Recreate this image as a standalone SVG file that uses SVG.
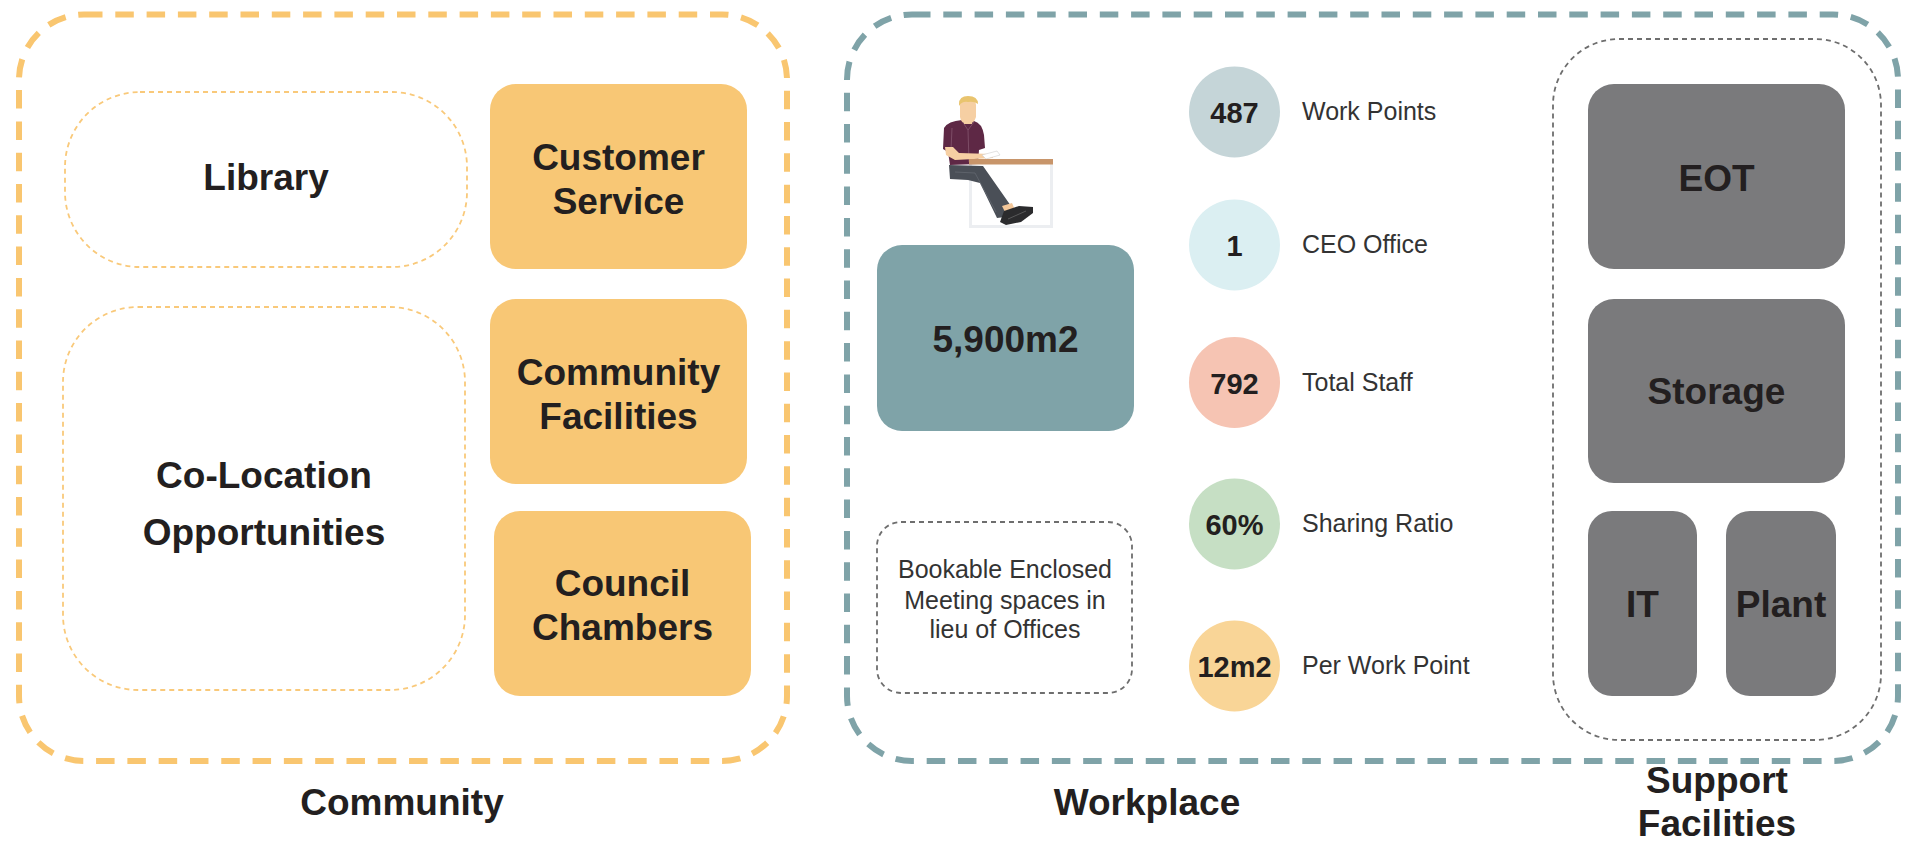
<svg xmlns="http://www.w3.org/2000/svg" width="1905" height="841" viewBox="0 0 1905 841">
  <style>
    .bold { font-family: "Liberation Sans", Arial, sans-serif; font-weight: 700; fill: #231f20; text-anchor: middle; }
    .big { font-size: 37px; }
    .num { font-size: 29px; }
    .light { font-family: "Liberation Sans", Arial, sans-serif; font-weight: 400; fill: #333333; }
    .lbl { font-size: 25px; }
    .note { font-size: 25px; text-anchor: middle; }
    .zone-y { fill: none; stroke: #f9c670; stroke-width: 6; stroke-dasharray: 18.5 12.8; }
    .zone-t { fill: none; stroke: #7fa3a8; stroke-width: 6; stroke-dasharray: 18.5 12.8; }
    .sub-y { fill: none; stroke: #f9c97a; stroke-width: 1.8; stroke-dasharray: 5 4; }
    .sub-g { fill: none; stroke: #6e6e6e; stroke-width: 1.8; stroke-dasharray: 5 4; }
    .amber { fill: #f8c775; }
    .teal { fill: #7fa3a8; }
    .grey { fill: #7a7a7c; }
  </style>

  <rect width="1905" height="841" fill="#ffffff"/>

  <!-- Community zone -->
  <g id="community">
    <rect class="zone-y" x="19" y="14.5" width="768" height="746.5" rx="65"/>
    <text class="bold big" x="402" y="815">Community</text>
  </g>

  <g id="library">
    <rect class="sub-y" x="65" y="92" width="402" height="175" rx="75"/>
    <text class="bold big" x="266" y="190">Library</text>
  </g>

  <g id="co-location">
    <rect class="sub-y" x="63" y="307" width="402" height="383" rx="75"/>
    <text class="bold big" x="264" y="488">Co-Location</text>
    <text class="bold big" x="264" y="545">Opportunities</text>
  </g>

  <g id="customer-service">
    <rect class="amber" x="490" y="84" width="257" height="185" rx="26"/>
    <text class="bold big" x="618.5" y="170">Customer</text>
    <text class="bold big" x="618.5" y="214">Service</text>
  </g>

  <g id="community-facilities">
    <rect class="amber" x="490" y="299" width="257" height="185" rx="26"/>
    <text class="bold big" x="618.5" y="385">Community</text>
    <text class="bold big" x="618.5" y="429">Facilities</text>
  </g>

  <g id="council-chambers">
    <rect class="amber" x="494" y="511" width="257" height="185" rx="26"/>
    <text class="bold big" x="622.5" y="596">Council</text>
    <text class="bold big" x="622.5" y="640">Chambers</text>
  </g>

  <!-- Workplace zone (also encloses the support facilities) -->
  <g id="workplace">
    <rect class="zone-t" x="847" y="14.5" width="1051" height="746.5" rx="65"/>
    <text class="bold big" x="1147" y="815">Workplace</text>
  </g>

  <!-- Seated figure at a desk -->
  <g id="figure">
    <!-- desk frame -->
    <rect x="969" y="164" width="3" height="64" fill="#eceef1"/>
    <rect x="1050" y="164" width="3" height="64" fill="#eceef1"/>
    <rect x="969" y="225" width="84" height="3" fill="#eceef1"/>
    <!-- pants -->
    <path d="M949,165 L983,166 L1011,206 L1005,217 L997,218 L980,183 L968,180 L950,179 Z" fill="#4a4f57"/>
    <path d="M955,172 L975,173 L996,212" fill="none" stroke="#6b7079" stroke-width="0.6"/>
    <!-- ankle and shoe -->
    <path d="M1002,206 L1012,203 L1015,210 L1006,214 Z" fill="#f3c79a"/>
    <path d="M1004,211 L1019,206 L1033,207 L1033,213 L1021,222 L1006,225 L1000,222 Z" fill="#2b2b2d"/>
    <path d="M1008,219 L1026,211" fill="none" stroke="#777" stroke-width="0.6"/>
    <!-- shirt -->
    <path d="M944,128 Q948,121 962,120 L974,121 Q982,123 984,135 L985,148 L979,150 L978,164 L950,165 L948,152 L943,149 Z" fill="#5e2845"/>
    <path d="M962,121 L968,130 L974,122 M968,130 L969,162 M952,128 L951,150" fill="none" stroke="#8a5c74" stroke-width="0.7"/>
    <!-- neck and head -->
    <rect x="964" y="117" width="8" height="7" fill="#f3c79a"/>
    <path d="M960,104 Q960,99 968,99 Q976,99 976,105 L976,117 Q974,124 968,124 Q961,124 960,117 Z" fill="#f6cfa3"/>
    <path d="M959,104 Q959,96 968,96 Q978,96 978,104 Q974,101 968,102 Q962,101 959,106 Z" fill="#e9c46e"/>
    <!-- forearm and paper -->
    <path d="M945,147 L953,147 L959,153 L992,154 L993,158 L955,160 L946,155 Z" fill="#f6cfa3"/>
    <path d="M982,155 L997,151 L1000,155 L986,159 Z" fill="#ffffff" stroke="#cfcfcf" stroke-width="0.6"/>
    <!-- desk top -->
    <rect x="969" y="159" width="84" height="5.5" fill="#c8956a"/>
  </g>

  <g id="floor-area">
    <rect class="teal" x="877" y="245" width="257" height="186" rx="25"/>
    <text class="bold big" x="1005.5" y="352">5,900m2</text>
  </g>

  <g id="meeting-spaces">
    <rect class="sub-g" x="877" y="522" width="255" height="171" rx="24"/>
    <text class="light note" x="1005" y="578">Bookable Enclosed</text>
    <text class="light note" x="1005" y="609">Meeting spaces in</text>
    <text class="light note" x="1005" y="638">lieu of Offices</text>
  </g>

  <!-- Key figures -->
  <g id="work-points">
    <circle cx="1234.5" cy="112" r="45.5" fill="#c5d5d8"/>
    <text class="bold num" x="1234.5" y="123">487</text>
    <text class="light lbl" x="1302" y="120">Work Points</text>
  </g>

  <g id="ceo-office">
    <circle cx="1234.5" cy="245" r="45.5" fill="#dbeff2"/>
    <text class="bold num" x="1234.5" y="256">1</text>
    <text class="light lbl" x="1302" y="253">CEO Office</text>
  </g>

  <g id="total-staff">
    <circle cx="1234.5" cy="382.5" r="45.5" fill="#f6c4b3"/>
    <text class="bold num" x="1234.5" y="393.5">792</text>
    <text class="light lbl" x="1302" y="390.5">Total Staff</text>
  </g>

  <g id="sharing-ratio">
    <circle cx="1234.5" cy="524" r="45.5" fill="#c6dfc4"/>
    <text class="bold num" x="1234.5" y="535">60%</text>
    <text class="light lbl" x="1302" y="532">Sharing Ratio</text>
  </g>

  <g id="per-work-point">
    <circle cx="1234.5" cy="666" r="45.5" fill="#f9d597"/>
    <text class="bold num" x="1234.5" y="677">12m2</text>
    <text class="light lbl" x="1302" y="674">Per Work Point</text>
  </g>

  <!-- Support facilities -->
  <g id="support-facilities">
    <rect class="sub-g" x="1553" y="39" width="328" height="701" rx="66"/>
    <text class="bold big" x="1717" y="793">Support</text>
    <text class="bold big" x="1717" y="836">Facilities</text>
  </g>

  <g id="eot">
    <rect class="grey" x="1588" y="84" width="257" height="185" rx="26"/>
    <text class="bold big" x="1716.5" y="191">EOT</text>
  </g>

  <g id="storage">
    <rect class="grey" x="1588" y="299" width="257" height="184" rx="26"/>
    <text class="bold big" x="1716.5" y="404">Storage</text>
  </g>

  <g id="it">
    <rect class="grey" x="1588" y="511" width="109" height="185" rx="24"/>
    <text class="bold big" x="1642.5" y="617">IT</text>
  </g>

  <g id="plant">
    <rect class="grey" x="1726" y="511" width="110" height="185" rx="24"/>
    <text class="bold big" x="1781" y="617">Plant</text>
  </g>
</svg>
